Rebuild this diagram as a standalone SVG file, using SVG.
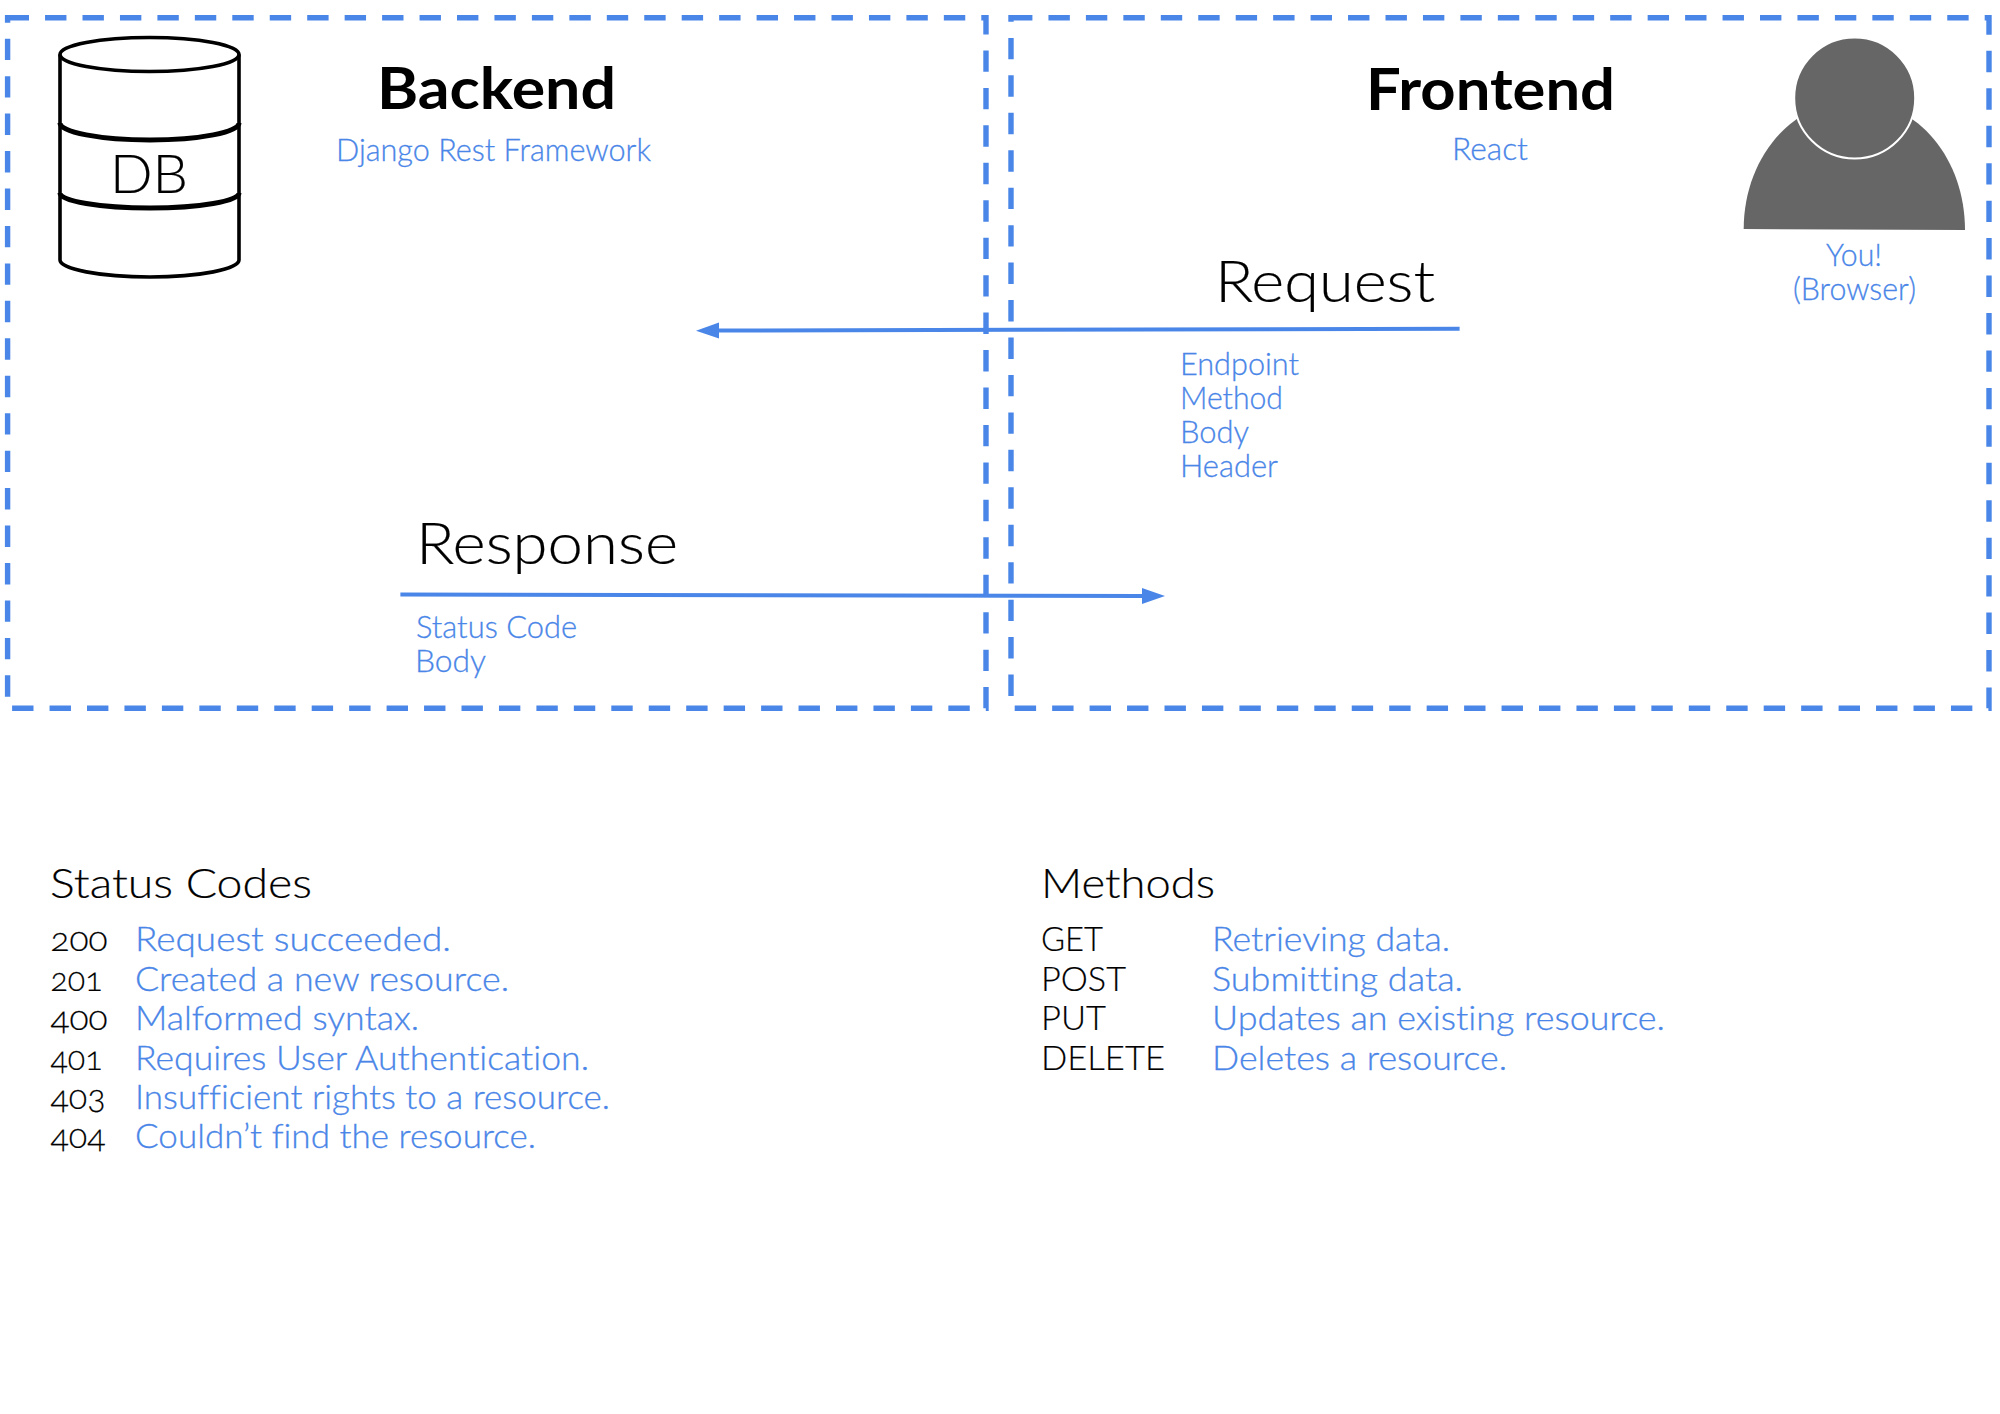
<svg xmlns="http://www.w3.org/2000/svg" width="2000" height="1414" viewBox="0 0 2000 1414">
<style>
text{font-family:"Lato","Liberation Sans",sans-serif;font-weight:300;fill:#000;font-variant-ligatures:none}
.b{fill:#4a86e8;font-size:30.5px;stroke:#4a86e8;stroke-width:.3px}
.l{fill:#4a86e8;font-size:33.5px;stroke:#4a86e8;stroke-width:.3px}
.k{font-size:33px;font-variant-numeric:oldstyle-nums;stroke:#000;stroke-width:.2px}
.h{font-size:57px;stroke:#000;stroke-width:.2px}
.s{font-size:42px;stroke:#000;stroke-width:.2px}
.t{font-size:57px;font-weight:700}
.box{fill:none;stroke:#4a86e8;stroke-width:5.4;stroke-dasharray:21.4 16.05}
.db{fill:none;stroke:#000;stroke-width:3.6;stroke-linejoin:round}
.band{stroke-width:5}
.conn{fill:none;stroke:#4a86e8;stroke-width:4}
</style>
<defs><marker id="arrow" markerUnits="userSpaceOnUse" markerWidth="23" markerHeight="17" refX="0" refY="8" orient="auto"><polygon points="0,0 23,8 0,16" fill="#4a86e8"/></marker></defs>
<rect width="2000" height="1414" fill="#fff"/>
<g id="backend-box"><rect class="box" x="7.6" y="17.7" width="978.4" height="690.6"/>
<text class="t" x="377" y="109" textLength="239" lengthAdjust="spacingAndGlyphs">Backend</text>
<text class="b" x="336" y="160.5" textLength="315" lengthAdjust="spacingAndGlyphs">Django Rest Framework</text></g>
<g id="frontend-box"><rect class="box" x="1011" y="17.7" width="978" height="690.6"/>
<text class="t" x="1366" y="109.5" textLength="249" lengthAdjust="spacingAndGlyphs">Frontend</text>
<text class="b" x="1452" y="160" textLength="76" lengthAdjust="spacingAndGlyphs">React</text></g>
<g id="db">
<path class="db" d="M60 54.5V260C60 269 100 277 150 277S239 269 239 260V54.5"/>
<ellipse class="db" cx="149.5" cy="54.5" rx="89.5" ry="17"/>
<path class="db band" d="M60 123C60 132 100 140 150 140S239 132 239 123M60 193C60 201 100 208 150 208S239 201 239 193"/>
<text x="110" y="192.5" font-size="54" textLength="78" lengthAdjust="spacingAndGlyphs" style="stroke:#000;stroke-width:.2px">DB</text></g>
<g id="user">
<path d="M1743.7 229C1743.7 160 1790 101 1854.5 101S1965 160 1965 230Z" fill="#666"/>
<circle cx="1854.7" cy="98" r="60.5" fill="#666" stroke="#fff" stroke-width="2"/>
<text class="b" x="1826" y="265.5" textLength="56" lengthAdjust="spacingAndGlyphs">You!</text>
<text class="b" x="1793" y="300" textLength="123" lengthAdjust="spacingAndGlyphs">(Browser)</text></g>
<g id="connectors">
<line class="conn" x1="1459.6" y1="328.7" x2="719" y2="330.6" marker-end="url(#arrow)"/>
<line class="conn" x1="400.4" y1="594.4" x2="1142" y2="596" marker-end="url(#arrow)"/></g>
<g id="request">
<text class="h" x="1215" y="301.5" textLength="220" lengthAdjust="spacingAndGlyphs">Request</text>
<text class="b" x="1180" y="375" textLength="119" lengthAdjust="spacingAndGlyphs">Endpoint</text>
<text class="b" x="1180" y="409" textLength="103" lengthAdjust="spacingAndGlyphs">Method</text>
<text class="b" x="1180" y="443" textLength="69" lengthAdjust="spacingAndGlyphs">Body</text>
<text class="b" x="1180" y="477" textLength="98" lengthAdjust="spacingAndGlyphs">Header</text></g>
<g id="response">
<text class="h" x="416" y="564" textLength="262" lengthAdjust="spacingAndGlyphs">Response</text>
<text class="b" x="416" y="638" textLength="161" lengthAdjust="spacingAndGlyphs">Status Code</text>
<text class="b" x="415" y="672" textLength="71" lengthAdjust="spacingAndGlyphs">Body</text></g>
<g id="status-codes">
<text class="s" x="50" y="897.5" textLength="262" lengthAdjust="spacingAndGlyphs">Status Codes</text>
<text class="k" x="50.5" y="951" textLength="57" lengthAdjust="spacingAndGlyphs">200</text>
<text class="k" x="50.5" y="991" textLength="52" lengthAdjust="spacingAndGlyphs">201</text>
<text class="k" x="50.5" y="1030" textLength="57" lengthAdjust="spacingAndGlyphs">400</text>
<text class="k" x="50.5" y="1070" textLength="52" lengthAdjust="spacingAndGlyphs">401</text>
<text class="k" x="50.5" y="1109" textLength="55" lengthAdjust="spacingAndGlyphs">403</text>
<text class="k" x="50.5" y="1148" textLength="55" lengthAdjust="spacingAndGlyphs">404</text>
<text class="l" x="135" y="951" textLength="316" lengthAdjust="spacingAndGlyphs">Request succeeded.</text>
<text class="l" x="135" y="991" textLength="374" lengthAdjust="spacingAndGlyphs">Created a new resource.</text>
<text class="l" x="135" y="1030" textLength="284" lengthAdjust="spacingAndGlyphs">Malformed syntax.</text>
<text class="l" x="135" y="1070" textLength="454" lengthAdjust="spacingAndGlyphs">Requires User Authentication.</text>
<text class="l" x="135" y="1109" textLength="475" lengthAdjust="spacingAndGlyphs">Insufficient rights to a resource.</text>
<text class="l" x="135" y="1148" textLength="401" lengthAdjust="spacingAndGlyphs">Couldn’t find the resource.</text></g>
<g id="methods">
<text class="s" x="1041" y="897.5" textLength="174" lengthAdjust="spacingAndGlyphs">Methods</text>
<text class="k" x="1041" y="951" textLength="62" lengthAdjust="spacingAndGlyphs">GET</text>
<text class="k" x="1041" y="991" textLength="85" lengthAdjust="spacingAndGlyphs">POST</text>
<text class="k" x="1041" y="1030" textLength="65" lengthAdjust="spacingAndGlyphs">PUT</text>
<text class="k" x="1041" y="1070" textLength="124" lengthAdjust="spacingAndGlyphs">DELETE</text>
<text class="l" x="1212" y="951" textLength="238" lengthAdjust="spacingAndGlyphs">Retrieving data.</text>
<text class="l" x="1212" y="991" textLength="251" lengthAdjust="spacingAndGlyphs">Submitting data.</text>
<text class="l" x="1212" y="1030" textLength="453" lengthAdjust="spacingAndGlyphs">Updates an existing resource.</text>
<text class="l" x="1212" y="1070" textLength="295" lengthAdjust="spacingAndGlyphs">Deletes a resource.</text></g>
</svg>
